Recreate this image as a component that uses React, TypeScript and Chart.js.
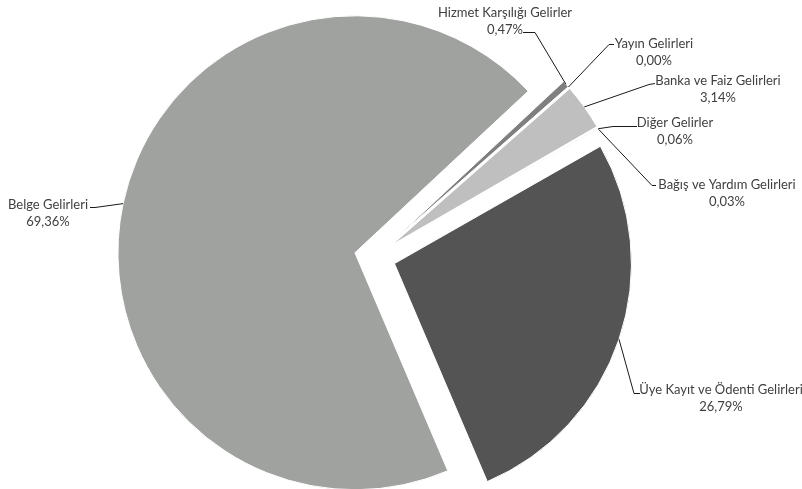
import React, { useEffect, useRef } from 'react';
import { Chart, PieController, ArcElement } from 'chart.js';

Chart.register(PieController, ArcElement);

// ---- data ----
const categories = [
  'Hizmet Karşılığı Gelirler',
  'Yayın Gelirleri',
  'Banka ve Faiz Gelirleri',
  'Diğer Gelirler',
  'Bağış ve Yardım Gelirleri',
  'Üye Kayıt ve Ödenti Gelirleri',
  'Belge Gelirleri',
];
const shares = [0.47, 0.0, 3.14, 0.06, 0.03, 26.79, 69.36];
const sliceColors = ['#7F7F7F', '#404040', '#BFBFBF', '#A5A5A5', '#D9D9D9', '#545454', '#A0A2A0'];

// ---- label layout: [textCenterX, firstLineY, attachX, attachY, elbowX, elbowY] ----
const labelLayout: number[][] = [
  [505, 13, 523, 32.5, 535, 32.5],
  [654, 44, 614, 44.5, 609, 44.5],
  [718, 81, 655, 83.5, 649, 84.5],
  [675, 123, 637, 126.5, 613, 126.5],
  [727, 185, 656, 185.5, 652, 185.5],
  [721, 390, 640, 393.5, 634, 393.5],
  [48, 205, 90, 207.5, 95, 207.5],
];

const EXPLODE = 20.5;
const LINE_GAP = 16.7;
const FONT = '13px Lato, "Open Sans", sans-serif';

function fmtPct(v: number) {
  return v.toFixed(2).replace('.', ',') + '%';
}

const explodePlugin = {
  id: 'explodeAndLabels',
  beforeDatasetsDraw(chart: any) {
    const meta = chart.getDatasetMeta(0);
    meta.data.forEach((el: any) => {
      if (el.__exploded) return;
      el.__exploded = true;
      const baseDraw = ArcElement.prototype.draw;
      el.draw = function (ctx: CanvasRenderingContext2D, area: any) {
        const mid = (this.startAngle + this.endAngle) / 2;
        ctx.save();
        ctx.translate(Math.cos(mid) * EXPLODE, Math.sin(mid) * EXPLODE);
        baseDraw.call(this, ctx, area);
        ctx.restore();
      };
    });
  },
  afterDatasetsDraw(chart: any) {
    const ctx: CanvasRenderingContext2D = chart.ctx;
    const meta = chart.getDatasetMeta(0);
    ctx.save();
    meta.data.forEach((el: any, i: number) => {
      const lay = labelLayout[i];
      if (!lay) return;
      const mid = (el.startAngle + el.endAngle) / 2;
      const cx = el.x + Math.cos(mid) * EXPLODE;
      const cy = el.y + Math.sin(mid) * EXPLODE;
      const ax = cx + Math.cos(mid) * el.outerRadius;
      const ay = cy + Math.sin(mid) * el.outerRadius;
      const [tx, ty, lx, ly, ex, ey] = lay;
      ctx.strokeStyle = '#1a1a1a';
      ctx.lineWidth = 1;
      ctx.beginPath();
      ctx.moveTo(ax, ay);
      ctx.lineTo(ex, ey);
      ctx.lineTo(lx, ly);
      ctx.stroke();
      ctx.fillStyle = '#404040';
      ctx.font = FONT;
      ctx.textAlign = 'center';
      ctx.textBaseline = 'middle';
      ctx.fillText(categories[i], tx, ty);
      ctx.fillText(fmtPct(shares[i]), tx, ty + LINE_GAP);
    });
    ctx.restore();
  },
};

export default function App() {
  const canvasRef = useRef<HTMLCanvasElement | null>(null);

  useEffect(() => {
    if (!canvasRef.current) return;
    const chart = new Chart(canvasRef.current, {
      type: 'pie',
      data: {
        labels: categories,
        datasets: [
          {
            data: shares,
            backgroundColor: sliceColors,
            borderColor: '#ffffff',
            borderWidth: 1,
            clip: false as any,
          },
        ],
      },
      options: {
        responsive: false,
        animation: false,
        events: [],
        rotation: 47,
        radius: 237,
        layout: { padding: { left: 0, right: 52, top: 25, bottom: 0 } },
        plugins: { legend: { display: false }, tooltip: { enabled: false } },
      } as any,
      plugins: [explodePlugin],
    });
    return () => chart.destroy();
  }, []);

  return (
    <div style={{ position: 'fixed', left: 0, top: 0, width: 802, height: 489, background: '#ffffff' }}>
      <canvas ref={canvasRef} width={802} height={489} style={{ display: 'block', width: 802, height: 489 }} />
    </div>
  );
}
